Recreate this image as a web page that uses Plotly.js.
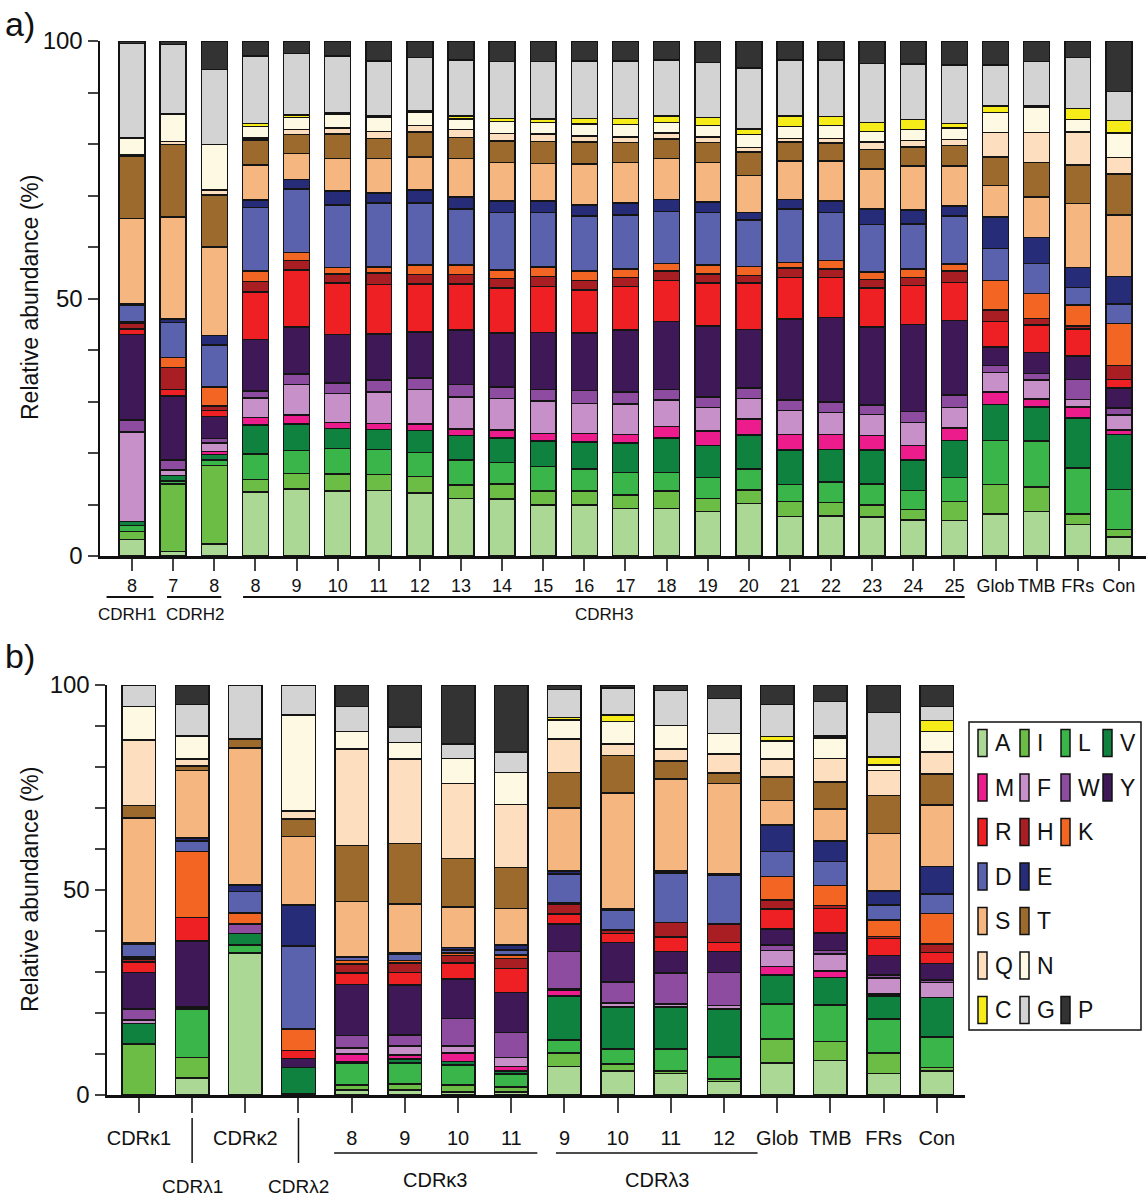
<!DOCTYPE html>
<html>
<head>
<meta charset="utf-8">
<script src="https://cdn.plot.ly/plotly-3.0.1.min.js"></script>
<style>
  html, body { margin: 0; padding: 0; background: #fff; }
  #chart { width: 1146px; height: 1200px; }
</style>
</head>
<body>
<div id="chart"></div>
<script>
// residues, bottom of the stack first
var residues = ['A','I','L','V','M','F','W','Y','R','H','K','D','E','S','T','Q','N','C','G','P'];

// panel a) heavy chain
var labelsA = ['8','7','8','8','9','10','11','12','13','14','15','16','17','18','19','20','21','22','23','24','25','Glob','TMB','FRs','Con'];
var a_A = [3.2,0.9,2.3,12.4,13.0,12.6,12.7,12.2,11.2,11.1,9.9,9.9,9.2,9.2,8.6,10.2,7.7,7.8,7.6,7.0,6.9,8.2,8.6,6.1,3.7];
var a_I = [1.6,13.1,15.3,2.5,3.0,3.3,3.1,3.2,2.6,2.9,2.7,2.7,2.6,3.4,2.6,2.6,2.9,2.6,2.3,2.0,3.7,5.7,4.8,2.1,1.4];
var a_L = [1.1,0.6,1.0,4.9,4.5,5.0,4.9,4.7,4.8,4.2,4.8,4.3,4.4,3.6,4.0,4.1,3.3,4.0,4.1,3.7,4.6,8.5,8.9,8.9,7.8];
var a_V = [0.8,1.0,1.1,5.6,5.1,3.9,3.9,4.3,4.8,4.7,4.9,5.2,5.7,6.7,6.3,6.6,6.7,6.3,6.6,5.9,7.2,7.0,6.6,9.7,10.7];
var a_M = [0,0,0.6,1.5,1.8,1.1,1.1,1.2,1.3,1.6,1.5,1.7,1.7,2.2,2.8,3.1,3.0,2.9,2.8,2.9,2.5,2.4,1.6,2.1,0.9];
var a_F = [17.4,1.1,1.6,3.8,5.9,5.7,6.1,6.7,6.2,6.1,6.3,5.8,5.9,5.2,4.5,4.0,4.7,4.3,4.1,4.4,3.9,3.8,3.7,1.5,2.9];
var a_W = [2.3,1.9,0.9,1.3,2.0,2.0,2.4,2.3,2.4,2.2,2.2,2.5,2.3,2.0,2.1,2.0,2.0,2.0,1.8,2.2,2.5,1.4,1.2,3.9,1.3];
var a_Y = [16.6,12.5,4.3,10.0,9.2,9.4,8.9,8.9,10.6,10.5,11.1,11.2,12.1,13.2,13.8,11.4,15.7,16.4,15.2,16.9,14.4,3.6,4.1,4.5,3.9];
var a_R = [1.1,1.2,1.2,9.3,11.0,10.0,9.6,9.3,8.9,8.7,8.9,8.4,8.4,8.0,8.3,9.0,8.1,7.8,7.5,7.5,7.4,4.9,5.4,5.3,1.7];
var a_H = [1.1,4.3,0.8,2.0,1.9,1.8,2.3,1.9,1.9,1.9,2.0,1.8,1.8,1.8,1.8,1.5,1.8,1.6,1.7,1.6,2.2,2.3,1.2,0.6,2.7];
var a_K = [0.3,1.9,3.7,2.0,1.5,1.2,1.1,1.8,1.8,1.6,1.8,1.8,1.6,1.5,1.7,1.7,1.1,1.7,1.4,1.6,1.4,5.7,4.9,4.0,8.1];
var a_D = [3.2,6.8,8.2,12.4,12.4,12.2,12.4,12.0,10.9,11.2,10.6,10.7,10.5,10.1,10.2,9.0,10.4,9.3,9.3,8.8,9.3,6.2,5.8,3.4,3.8];
var a_E = [0.3,0.7,1.8,1.4,1.8,2.7,2.0,2.6,2.3,2.2,2.2,2.2,2.3,2.3,2.0,1.5,1.8,2.2,3.0,2.7,2.0,6.1,5.0,3.9,5.4];
var a_S = [16.5,19.8,17.2,6.8,5.1,6.3,6.7,6.4,7.5,7.5,7.3,7.9,7.9,8.0,7.7,7.2,7.5,7.8,7.7,8.5,7.7,6.1,7.9,12.4,11.9];
var a_T = [12.2,14.1,10.1,4.9,3.6,4.7,3.9,4.8,4.1,4.2,4.3,4.3,3.9,3.8,3.9,4.5,3.7,3.5,3.8,3.7,4.0,5.6,6.7,7.5,8.0];
var a_Q = [0.3,0.6,1.0,0.4,1.0,1.2,1.3,1.3,1.5,1.4,1.4,1.2,1.1,1.1,1.1,0.9,0.7,0.9,1.5,1.3,1.2,4.7,5.8,6.4,3.2];
var a_N = [3.2,5.3,8.8,2.2,2.3,2.7,2.7,2.5,2.1,2.4,2.3,2.3,2.4,2.1,2.2,2.5,2.3,2.5,2.0,2.1,2.2,3.9,4.9,2.5,4.7];
var a_C = [0,0,0,0.6,0.5,0.3,0.3,0.3,0.5,0.6,0.7,1.1,1.2,1.2,1.5,1.1,2.0,1.7,1.8,2.0,0.9,1.3,0.3,2.1,2.5];
var a_G = [18.3,13.5,14.6,13.1,12.0,11.0,10.7,10.4,10.9,11.0,11.1,11.1,11.1,10.9,10.7,11.9,10.9,11.0,11.4,10.7,11.3,7.9,8.6,9.9,5.6];
var a_P = [0.5,0.7,5.5,2.9,2.4,2.9,3.9,3.2,3.7,4.0,4.0,3.9,3.9,3.7,4.2,5.2,3.7,3.7,4.4,4.5,4.7,4.7,4.0,3.2,9.8];

// panel b) light chain
var labelsB = ['CDR\u03ba1','','CDR\u03ba2','','8','9','10','11','9','10','11','12','Glob','TMB','FRs','Con'];
var b_A = [0,4.1,34.6,0.4,1.2,1.2,0.7,0.7,6.9,5.9,5.3,3.3,7.8,8.4,5.3,5.9];
var b_I = [12.4,5.1,0,0,1.2,1.5,1.7,1.2,3.3,1.7,0.6,0.6,5.9,4.7,4.9,0.8];
var b_L = [0,11.8,2.0,0,5.3,5.1,4.9,3.2,3.2,3.6,5.3,5.4,8.5,8.9,8.3,7.5];
var b_V = [5.1,0.5,2.8,6.3,0.3,1.0,0.9,0.7,10.8,10.3,10.3,11.7,7.1,6.7,5.7,9.6];
var b_M = [0,0,0,0,2.0,1.0,2.0,1.1,1.4,0,0,0,2.1,1.6,0.4,0];
var b_F = [0.8,0,0,0,1.5,2.2,1.8,2.3,0.4,0.9,0.7,0.8,3.8,4.1,3.9,3.7];
var b_W = [2.7,0,2.3,0,3.0,2.6,6.7,6.1,9.0,5.2,7.5,8.1,1.4,0.8,0.8,0.6];
var b_Y = [8.9,16.1,0,2.2,12.4,12.2,9.6,9.7,6.7,9.6,5.3,5.1,3.9,4.3,4.7,4.0];
var b_R = [2.5,5.7,0,1.9,2.8,3.1,3.9,5.9,2.4,2.2,3.5,2.2,4.9,6.0,4.2,2.7];
var b_H = [0.8,0,0,0,2.3,2.3,1.8,2.4,2.5,0.9,3.6,4.5,2.2,0.7,0.5,2.0];
var b_K = [0.5,16.1,2.7,5.3,0.8,0.6,0.6,0.8,0.4,0,0,0,5.7,4.9,4.0,7.5];
var b_D = [3.1,2.6,5.2,20.3,0.8,1.6,0.8,1.3,6.9,4.7,12.0,11.8,6.1,5.9,3.6,4.7];
var b_E = [0.4,0.7,1.6,9.9,0,0.2,0.6,1.2,0.7,0.4,0.5,0.4,6.5,4.9,3.5,6.7];
var b_S = [30.4,16.4,33.4,16.7,13.6,12.0,9.8,8.9,15.4,28.2,22.5,22.1,5.9,7.9,14.0,15.0];
var b_T = [3.0,1.1,2.2,4.3,13.6,14.8,11.9,10.0,8.7,9.2,4.4,2.5,5.8,6.5,9.2,7.6];
var b_Q = [16.0,1.8,0,2.0,23.6,20.6,18.3,15.3,8.1,2.8,2.9,4.7,4.4,5.8,6.1,5.4];
var b_N = [8.1,5.6,0,23.4,4.2,4.0,6.1,7.9,4.7,5.5,5.7,5.0,4.3,5.0,1.4,4.9];
var b_C = [0,0,0,0,0,0,0,0,0.6,1.6,0,0,1.1,0.5,2.0,2.7];
var b_G = [5.3,7.6,13.2,7.3,6.1,3.7,3.5,5.0,6.8,6.6,8.5,8.5,7.8,8.4,10.8,3.4];
var b_P = [0,4.8,0,0,5.3,10.3,14.4,16.3,1.1,0.7,1.4,3.3,4.8,4.0,6.7,5.3];

var legendRows = [['A','I','L','V'],['M','F','W','Y'],['R','H','K'],['D','E'],['S','T'],['Q','N'],['C','G','P']];

var colors = {
  A:'#acd896', I:'#6cbd45', L:'#39b54a', V:'#10823f',
  M:'#ec1c8c', F:'#c890c8', W:'#8e4ca0', Y:'#3f1857',
  R:'#ee2024', H:'#a81e23', K:'#f26522',
  D:'#5a62ad', E:'#272c78',
  S:'#f5b77f', T:'#9b6a2c',
  Q:'#fddfc0', N:'#fef9e2',
  C:'#f5ec1a', G:'#d3d3d3', P:'#333333'
};

var seriesA = {A:a_A,I:a_I,L:a_L,V:a_V,M:a_M,F:a_F,W:a_W,Y:a_Y,R:a_R,H:a_H,K:a_K,D:a_D,E:a_E,S:a_S,T:a_T,Q:a_Q,N:a_N,C:a_C,G:a_G,P:a_P};
var seriesB = {A:b_A,I:b_I,L:b_L,V:b_V,M:b_M,F:b_F,W:b_W,Y:b_Y,R:b_R,H:b_H,K:b_K,D:b_D,E:b_E,S:b_S,T:b_T,Q:b_Q,N:b_N,C:b_C,G:b_G,P:b_P};

var W = 1146, H = 1200;
function px(x) { return x / W; }
function py(y) { return 1 - y / H; }

var sans = 'Liberation Sans, Arial, sans-serif';

var posA = labelsA.map(function (_, i) { return i; });
var posB = labelsB.map(function (_, i) { return i; });

var data = [];
residues.forEach(function (r) {
  data.push({
    type: 'bar', x: posA, y: seriesA[r], name: r, xaxis: 'x', yaxis: 'y',
    width: 0.63, cliponaxis: false, showlegend: false, hoverinfo: 'name+y',
    marker: { color: colors[r], line: { color: '#141414', width: 1.5 } }
  });
});
residues.forEach(function (r) {
  data.push({
    type: 'bar', x: posB, y: seriesB[r], name: r, xaxis: 'x2', yaxis: 'y2',
    width: 0.63, cliponaxis: false, showlegend: false, hoverinfo: 'name+y',
    marker: { color: colors[r], line: { color: '#141414', width: 1.5 } }
  });
});

var yTicks = [0,10,20,30,40,50,60,70,80,90,100];
var yText = yTicks.map(function (v) { return v % 50 === 0 ? String(v) : ''; });

function yAxis(domain, anchor) {
  return {
    domain: domain, anchor: anchor, range: [0, 100],
    tickvals: yTicks, ticktext: yText, ticks: 'outside', ticklen: 10, tickwidth: 2,
    showline: true, linewidth: 2.5, linecolor: '#111', showgrid: false, zeroline: false,
    tickfont: { family: sans, size: 24, color: '#111' }
  };
}

function note(xref, x, y, text, size, extra) {
  var a = { xref: xref, yref: 'paper', x: x, y: y, text: text, showarrow: false,
    xanchor: 'center', yanchor: 'middle', font: { family: sans, size: size, color: '#111' } };
  for (var k in extra) a[k] = extra[k];
  return a;
}

var shapes = [], annotations = [];

// group brackets under panel a
[[-0.62, 0.52, -0.1, 'CDRH1'], [0.85, 2.17, 1.55, 'CDRH2'], [2.7, 20.25, 11.5, 'CDRH3']].forEach(function (g) {
  shapes.push({ type: 'line', xref: 'x', yref: 'paper', x0: g[0], x1: g[1], y0: py(597), y1: py(597), line: { color: '#111', width: 2 } });
  annotations.push(note('x', g[2], py(614), g[3], 17));
});

// group brackets under panel b
[[3.67, 7.49, 5.56, 'CDR\u03ba3'], [7.84, 11.63, 9.74, 'CDR\u03bb3']].forEach(function (g) {
  shapes.push({ type: 'line', xref: 'x2', yref: 'paper', x0: g[0], x1: g[1], y0: py(1153), y1: py(1153), line: { color: '#111', width: 1.5 } });
  annotations.push(note('x2', g[2], py(1180), g[3], 20));
});
[[1, 'CDR\u03bb1'], [3, 'CDR\u03bb2']].forEach(function (g) {
  shapes.push({ type: 'line', xref: 'x2', yref: 'paper', x0: g[0], x1: g[0], y0: py(1118), y1: py(1163), line: { color: '#111', width: 1.5 } });
  annotations.push(note('x2', g[0], py(1186), g[1], 19));
});

// panel letters and y titles
annotations.push(note('paper', px(3), py(24), 'a)', 34, { xanchor: 'left' }));
annotations.push(note('paper', px(3), py(656), 'b)', 34, { xanchor: 'left' }));
annotations.push(note('paper', px(30), py(298), 'Relative abundance (%)', 23, { textangle: -90 }));
annotations.push(note('paper', px(30), py(890), 'Relative abundance (%)', 23, { textangle: -90 }));

// legend box drawn by hand (grid of residues)
shapes.push({ type: 'rect', xref: 'paper', yref: 'paper', x0: px(969), x1: px(1141), y0: py(1030), y1: py(722), line: { color: '#111', width: 1.5 } });
var colX = [978, 1020, 1061, 1103];
legendRows.forEach(function (row, ri) {
  var cy = 743 + ri * 44.5;
  row.forEach(function (r, ci) {
    var x0 = colX[ci];
    shapes.push({ type: 'rect', xref: 'paper', yref: 'paper', x0: px(x0), x1: px(x0 + 9), y0: py(cy + 13.5), y1: py(cy - 13.5),
      fillcolor: colors[r], line: { color: '#111', width: 1.5 } });
    annotations.push(note('paper', px(x0 + 15), py(cy), r, 23, { xanchor: 'left' }));
  });
});

var layout = {
  width: W, height: H,
  margin: { l: 0, r: 0, t: 0, b: 0 },
  paper_bgcolor: '#fff', plot_bgcolor: '#fff',
  barmode: 'stack',
  showlegend: false,
  xaxis: {
    domain: [px(100), 1], anchor: 'y', range: [-0.78, 24.66],
    tickvals: posA, ticktext: labelsA, ticks: 'outside', ticklen: 12, tickwidth: 2,
    showline: true, linewidth: 2.5, linecolor: '#111', showgrid: false, zeroline: false,
    tickfont: { family: sans, size: 18, color: '#111' }, tickangle: 0
  },
  yaxis: yAxis([py(556), py(41)], 'x'),
  xaxis2: {
    domain: [px(107), px(965)], anchor: 'y2', range: [-0.6, 15.53],
    tickvals: posB, ticktext: labelsB, ticks: 'outside', ticklen: 15, tickwidth: 2,
    ticklabelstandoff: 8,
    showline: true, linewidth: 2.5, linecolor: '#111', showgrid: false, zeroline: false,
    tickfont: { family: sans, size: 20, color: '#111' }, tickangle: 0
  },
  yaxis2: yAxis([py(1095), py(685)], 'x2'),
  shapes: shapes,
  annotations: annotations
};

Plotly.newPlot('chart', data, layout, { displayModeBar: false, staticPlot: true });
</script>
</body>
</html>
